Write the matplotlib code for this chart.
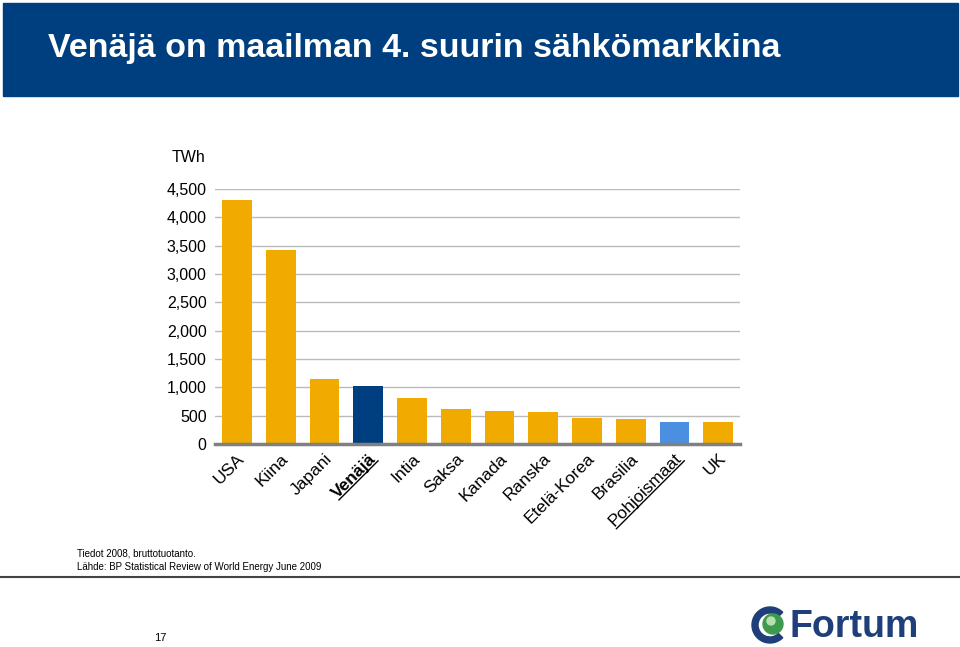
import matplotlib
matplotlib.use("Agg")
import matplotlib.pyplot as plt
import numpy as np
from matplotlib.patches import Rectangle, Circle, Wedge

# ---------- data ----------
countries = ["USA", "Kiina", "Japani", "Venäjä", "Intia", "Saksa", "Kanada",
             "Ranska", "Etelä-Korea", "Brasilia", "Pohjoismaat", "UK"]
twh = [4310, 3425, 1140, 1025, 820, 620, 590, 565, 455, 440, 395, 385]
bar_colors = ["#F0AA00"] * 3 + ["#003F7F"] + ["#F0AA00"] * 6 + ["#4A8FE0", "#F0AA00"]
yticks = [0, 500, 1000, 1500, 2000, 2500, 3000, 3500, 4000, 4500]
ytick_labels = ["0", "500", "1,000", "1,500", "2,000", "2,500", "3,000",
                "3,500", "4,000", "4,500"]
bold_labels = ["Venäjä"]
underlined = ["Venäjä", "Pohjoismaat"]

title = "Venäjä on maailman 4. suurin sähkömarkkina"
notes = ["Tiedot 2008, bruttotuotanto.",
         "Lähde: BP Statistical Review of World Energy June 2009"]

plt.rcParams["font.family"] = ["Liberation Sans", "DejaVu Sans"]

W, H = 960, 647
fig = plt.figure(figsize=(W / 100, H / 100), dpi=100)

# ---------- header ----------
fig.patches.append(Rectangle((3 / W, 1 - 96 / H), 955 / W, 93 / H,
                             transform=fig.transFigure, color="#003F7F", zorder=0))
fig.text(48 / W, 1 - 48 / H, title, color="white", fontsize=24.5, fontweight="bold",
         va="center", ha="left")

# ---------- chart ----------
ax = fig.add_axes([215 / W, 1 - 444 / H, 525 / W, 255 / H])
x = np.arange(len(countries))
ax.bar(x, twh, width=0.68, color=bar_colors, zorder=3)
ax.set_xlim(-0.5, len(countries) - 0.5)
ax.set_ylim(0, 4500)
ax.set_yticks(yticks)
ax.set_yticklabels(ytick_labels, fontsize=11.5)
ax.yaxis.grid(True, color="#BBBBBB", linewidth=1, zorder=0)
for s in ["top", "right", "left"]:
    ax.spines[s].set_visible(False)
ax.spines["bottom"].set_color("#808080")
ax.spines["bottom"].set_linewidth(2.5)
ax.spines["bottom"].set_zorder(4)
ax.tick_params(axis="y", length=0, pad=6)
ax.tick_params(axis="x", length=0, pad=5)
ax.set_xticks(x)
ax.set_xticklabels(countries, rotation=45, ha="right", va="top",
                   rotation_mode="anchor", fontsize=12.5)
for lab in ax.get_xticklabels():
    if lab.get_text() in bold_labels:
        lab.set_fontweight("bold")
fig.text(188 / W, 1 - 157 / H, "TWh", fontsize=11.5, ha="center", va="center")

# underline rotated labels by hand
fig.canvas.draw()
renderer = fig.canvas.get_renderer()
inv = fig.transFigure.inverted()
for lab in ax.get_xticklabels():
    if lab.get_text() not in underlined:
        continue
    w, h, d = renderer.get_text_width_height_descent(
        lab.get_text(), lab.get_fontproperties(), ismath=False)
    anchor = lab.get_transform().transform(lab.get_position())
    ang = np.deg2rad(45)
    u = np.array([np.cos(ang), np.sin(ang)])
    dn = np.array([np.sin(ang), -np.cos(ang)])
    br = anchor + (h - d + 2) * dn
    bl = br - w * u
    p1, p2 = inv.transform(br), inv.transform(bl)
    fig.add_artist(plt.Line2D([p1[0], p2[0]], [p1[1], p2[1]],
                              transform=fig.transFigure, color="black", linewidth=1))

# ---------- footer ----------
fig.text(77 / W, 1 - 553 / H, notes[0], fontsize=7, va="center")
fig.text(77 / W, 1 - 567 / H, notes[1], fontsize=7, va="center")
fig.add_artist(plt.Line2D([0, 1], [1 - 577 / H, 1 - 577 / H],
                          transform=fig.transFigure, color="#444444", linewidth=1.5))
fig.text(160 / W, 1 - 638 / H, "17", fontsize=8, ha="center", va="center")

# Fortum logo
lax = fig.add_axes([750 / W, 1 - 645 / H, 40 / W, 40 / H])
lax.set_xlim(-20, 20)
lax.set_ylim(-20, 20)
lax.set_aspect("equal")
lax.axis("off")
lax.add_patch(Wedge((0, 0), 18, 45, 315, width=6, color="#1F3F7A"))
lax.add_patch(Circle((3, 1), 10, color="#3E9A4E"))
lax.add_patch(Circle((1, 4), 4, color="#B8E0B0"))
fig.text(789 / W, 1 - 627 / H, "Fortum", fontsize=27, fontweight="bold",
         color="#1F3F7A", va="center", ha="left")

fig.savefig("out.png", dpi=100)
